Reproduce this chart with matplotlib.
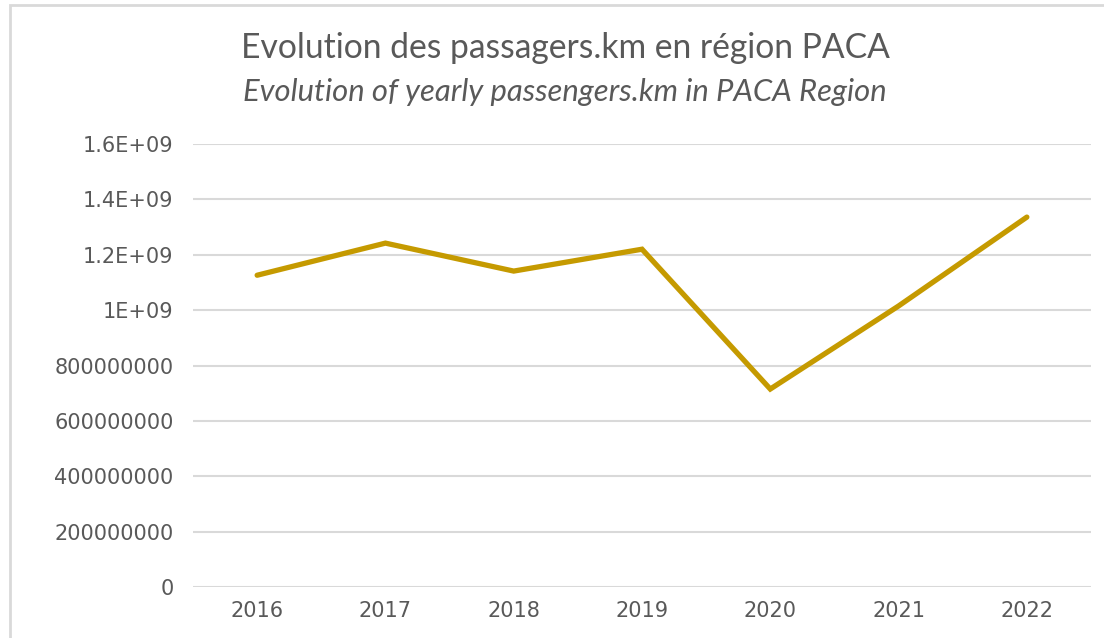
import matplotlib

matplotlib.use("Agg")
import matplotlib.pyplot as plt
import matplotlib.patches as mpatches
from matplotlib.ticker import FixedLocator, FixedFormatter

YEARS = ["2016", "2017", "2018", "2019", "2020", "2021", "2022"]
PASSENGER_KM = [1.126e9, 1.242e9, 1.141e9, 1.220e9, 0.715e9, 1.015e9, 1.336e9]
Y_TICKS = [0, 2e8, 4e8, 6e8, 8e8, 1e9, 1.2e9, 1.4e9, 1.6e9]
Y_LABELS = ["0", "200000000", "400000000", "600000000", "800000000",
            "1E+09", "1.2E+09", "1.4E+09", "1.6E+09"]

TITLE = "Evolution des passagers.km en région PACA"
SUBTITLE = "Evolution of yearly passengers.km in PACA Region"

LINE_COLOR = "#C59A00"
TEXT_COLOR = "#595959"
GRID_COLOR = "#D9D9D9"

W, H = 1104, 638
fig = plt.figure(figsize=(W / 100, H / 100), dpi=100)

# chart frame (cropped at the right and bottom in the reference)
fig.patches.append(mpatches.Rectangle(
    (10 / W, -0.05), 1.2, (H - 5) / H + 0.05, transform=fig.transFigure,
    fill=False, edgecolor=GRID_COLOR, linewidth=2.0))

ax = fig.add_axes([193 / W, (H - 587) / H, (1091 - 193) / W, (587 - 144) / H])
x = range(len(YEARS))
ax.plot(x, PASSENGER_KM, color=LINE_COLOR, linewidth=3.8,
        solid_capstyle="round", solid_joinstyle="miter", zorder=3)

ax.set_xlim(-0.5, len(YEARS) - 0.5)
ax.set_ylim(0, 1.6e9)
ax.yaxis.set_major_locator(FixedLocator(Y_TICKS))
ax.yaxis.set_major_formatter(FixedFormatter(Y_LABELS))
ax.set_xticks(list(x))
ax.set_xticklabels(YEARS)

ax.yaxis.grid(True, color=GRID_COLOR, linewidth=1.5)
ax.set_axisbelow(True)
for side in ["top", "right", "left", "bottom"]:
    ax.spines[side].set_visible(False)
ax.tick_params(axis="both", length=0, labelcolor=TEXT_COLOR, labelsize=15)
ax.tick_params(axis="y", pad=14)
ax.tick_params(axis="x", pad=10)
for lb in ax.get_xticklabels() + ax.get_yticklabels():
    lb.set_fontfamily(["DejaVu Sans"])

fig.text(565 / W, 1 - 48 / H, TITLE, ha="center", va="center",
         fontsize=24.2, color=TEXT_COLOR, family=["Lato", "DejaVu Sans"])
fig.text(565 / W, 1 - 92 / H, SUBTITLE, ha="center", va="center",
         fontsize=22.3, color=TEXT_COLOR, family=["Lato", "DejaVu Sans"],
         style="italic")

fig.savefig("out.png", dpi=100, facecolor="white")
